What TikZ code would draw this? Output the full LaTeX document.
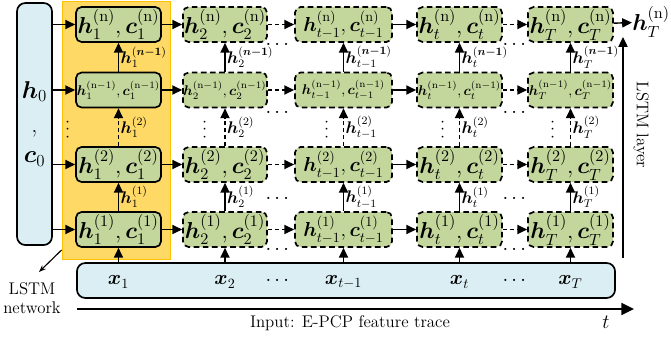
\documentclass[tikz,border=0pt]{standalone}
\usepackage{fix-cm}
\usepackage{bm}
\usepackage{amsmath}
\usepackage{xcolor}
\usepackage{tikz}
\usetikzlibrary{arrows.meta}
\definecolor{cgreen}{HTML}{C3D69B}
\definecolor{cblue}{HTML}{DAEEF3}
\definecolor{corange}{HTML}{FFD966}
\definecolor{corange2}{HTML}{FFC000}

\tikzset{
	cell/.style={draw, fill=cgreen, rounded corners=4pt, line width=1.2pt, minimum height=0.875cm, inner sep=0pt},
	dcell/.style={cell, dash pattern=on 4pt off 2.5pt},
	arr/.style={-{Triangle[length=7pt,width=6.5pt]}, line width=1pt},
	darr/.style={arr, dash pattern=on 3pt off 2pt},
	lab/.style={midway, right, inner sep=1pt, font=\large},
}
\newcommand{\cellfont}{\fontsize{16.4}{19}\selectfont}

\begin{document}
\begin{tikzpicture}[x=0.025cm, y=-0.025cm]
			\useasboundingbox (0,0) rectangle (671,337);

			% background blocks
			\node[draw=corange2, fill=corange, line width=0.6pt, minimum width=2.7cm, minimum height=6.45cm, inner sep=0pt] (grp) at (116,130) {};
			\node[draw, fill=cblue, rounded corners=6pt, line width=1.2pt, minimum width=0.875cm, minimum height=6.05cm, inner sep=0pt, align=center, font=\LARGE] (hc) at (34.5,124) {$\bm{h}_0$\\[2pt],\\[0pt]$\bm{c}_0$};
			\node[draw, fill=cblue, rounded corners=6pt, line width=1.2pt, minimum width=13.45cm, minimum height=0.875cm, inner sep=0pt] (inp) at (346,280.5) {};

			% inputs
			\node (x1) at (118.5,282) {\Large $\bm{x}_1$};
			\node (x2) at (225,282) {\Large $\bm{x}_2$};
			\node (xd1) at (279,281) {\Large $\cdots$};
			\node (xtm) at (343.5,282) {\Large $\bm{x}_{t-1}$};
			\node (xt) at (459.5,282) {\Large $\bm{x}_t$};
			\node (xd2) at (516,281) {\Large $\cdots$};
			\node (xT) at (570.5,282) {\Large $\bm{x}_T$};

			% cells, one column at a time
			\foreach \k/\x/\w/\s/\st/\vx/\fs in {a/118.5/2.125/1/cell/68/\cellfont, b/225/2.1/2/dcell/205/\cellfont, c/343.5/2.425/{t-1}/dcell/327/\Large, d/459.5/2.125/t/dcell/443/\cellfont, e/570.5/2.125/T/dcell/553/\cellfont}{
				\node[\st, minimum width=\w cm, font=\fs] (\k4) at (\x,24.5) {$\bm{h}_{\s}^{(\mathrm{n})},\bm{c}_{\s}^{(\mathrm{n})}$};
				\node[\st, minimum width=\w cm] (\k3) at (\x,90) {$\bm{h}_{\s}^{(\mathrm{n-1})},\bm{c}_{\s}^{(\mathrm{n-1})}$};
				\node[\st, minimum width=\w cm, font=\fs] (\k2) at (\x,164.5) {$\bm{h}_{\s}^{(2)},\bm{c}_{\s}^{(2)}$};
				\node[\st, minimum width=\w cm, font=\fs] (\k1) at (\x,229.5) {$\bm{h}_{\s}^{(1)},\bm{c}_{\s}^{(1)}$};
				\node[inner sep=0pt, rotate=90] (\k v) at (\vx,128) {\large $\cdots$};

				\draw[arr] (\k1 |- inp.north) -- (\k1);
				\draw[arr] (\k1) -- (\k2) node[lab] {$\bm{h}_{\s}^{(1)}$};
				\draw[darr] (\k2) -- (\k3) node[lab] {$\bm{h}_{\s}^{(2)}$};
				\draw[arr] (\k3) -- (\k4) node[lab] {$\bm{h}_{\s}^{(\bm{n-1})}$};
			}

			% connections along time
			\foreach \r in {1,...,4}{
				\draw[arr] (hc.east |- a\r) -- (a\r);
				\draw[arr] (a\r) -- (b\r);
				\draw[darr] (b\r) -- (c\r);
				\draw[arr] (c\r) -- (d\r);
				\draw[darr] (d\r) -- (e\r);
			}
			\foreach \y in {45,113,199,250}{
				\node[inner sep=0pt] (dl\y) at (279,\y) {\Large $\cdots$};
				\node[inner sep=0pt] (dr\y) at (516,\y) {\Large $\cdots$};
			}

			% output
			\node[anchor=west, inner sep=0pt, font=\cellfont] (hout) at (632,22) {$\bm{h}_T^{(\mathrm{n})}$};
			\draw[arr] (e4) -- (hout);

			% layer axis
			\coordinate (lay0) at (623,258);
			\coordinate (lay1) at (623,37);
			\draw[arr] (lay0) -- (lay1);
			\node[rotate=-90] (lay) at (641,125) {\large LSTM layer};

			% time axis
			\coordinate (ax0) at (77,309);
			\coordinate (ax1) at (634,309);
			\draw[-{Triangle[length=9pt,width=8.5pt]}, line width=1.2pt] (ax0) -- (ax1);
			\node (axl) at (350,323) {\large Input: E-PCP feature trace};
			\node (tl) at (606,322) {\Large $t$};

			% network label
			\node[align=center, font=\large, inner sep=0pt] (net) at (32,298) {LSTM\\network};
			\coordinate (nettip) at (39,272);
			\draw[-{Stealth[length=5pt]}, line width=0.8pt] (grp.west |- 0,250) -- (nettip);
		\end{tikzpicture}
\end{document}
